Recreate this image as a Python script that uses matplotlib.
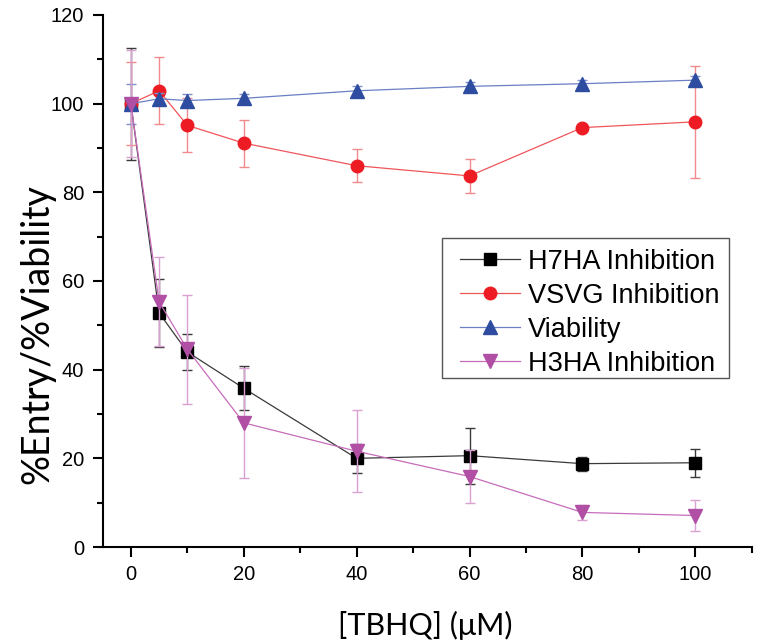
import numpy as np
import matplotlib
matplotlib.use("Agg")
import matplotlib.pyplot as plt
from matplotlib.patches import Rectangle

# TBHQ concentrations (uM)
conc = [0, 5, 10, 20, 40, 60, 80, 100]

# series values and error bars
h7ha = [100, 52.8, 44.0, 35.8, 20.0, 20.6, 18.8, 19.0]
h7ha_err = [12.6, 7.6, 4.1, 5.0, 3.2, 6.3, 1.6, 3.2]

vsvg = [100, 102.9, 95.1, 91.1, 86.0, 83.7, 94.6, 95.9]
vsvg_err = [9.3, 7.6, 6.1, 5.3, 3.7, 3.75, 0.6, 12.6]

viab = [100, 101.1, 100.7, 101.2, 102.9, 103.9, 104.5, 105.3]
viab_err = [4.5, 1.2, 1.5, 1.0, 1.0, 1.0, 0.8, 1.0]

h3ha = [100, 55.3, 44.6, 28.0, 21.6, 15.9, 7.8, 7.1]
h3ha_err = [12.0, 10.0, 12.3, 12.4, 9.3, 5.9, 1.7, 3.5]

labels = ["H7HA Inhibition", "VSVG Inhibition", "Viability", "H3HA Inhibition"]

fig = plt.figure(figsize=(7.6, 6.43), dpi=100)
ax = fig.add_axes([0.1351, 0.1493, 0.854, 0.8274])

#series: values, errors, marker, marker size, line colour, marker colour, errorbar colour
series = [
    (h7ha, h7ha_err, "s", 8, "#3a3a3a", "#000000", "#3a3a3a"),
    (vsvg, vsvg_err, "o", 9, "#f0555a", "#ed1c24", "#f08a8c"),
    (viab, viab_err, "^", 10, "#6a7fc4", "#2e4da0", "#7f8fcc"),
    (h3ha, h3ha_err, "v", 10, "#c76cbb", "#b04fa4", "#d9a0d2"),
]

handles = []
for (vals, errs, mk, ms, lc, mc, ec), lab in zip(series, labels):
    ax.errorbar(conc, vals, yerr=errs, fmt="none", ecolor=ec,
                elinewidth=1, capsize=3.3, capthick=1)
    h, = ax.plot(conc, vals, color=lc, linewidth=0.9, marker=mk,
                 markersize=ms, markerfacecolor=mc, markeredgecolor=mc,
                 label=lab)
    handles.append(h)

ax.set_xlim(-5, 110)
ax.set_ylim(0, 120)
ax.set_xticks([0, 20, 40, 60, 80, 100])
ax.set_xticks(np.arange(10, 111, 20), minor=True)
ax.set_yticks(np.arange(0, 121, 20))
ax.set_yticks(np.arange(10, 120, 20), minor=True)

for s in ["top", "right"]:
    ax.spines[s].set_visible(False)
for s in ["left", "bottom"]:
    ax.spines[s].set_linewidth(1.5)

ax.tick_params(which="major", direction="out", length=7.2, width=1.5,
               labelsize=14.5, pad=6)
ax.tick_params(which="minor", direction="out", length=4.3, width=1.5)
for t in ax.get_xticklabels() + ax.get_yticklabels():
    t.set_fontfamily("Liberation Sans")

ax.set_xlabel("[TBHQ] (\u03bcM)", fontsize=22, fontfamily="Lato")
ax.set_ylabel("%Entry/%Viability", fontsize=27, fontfamily="Lato")
ax.xaxis.set_label_coords(0.497, -0.12)
ax.yaxis.set_label_coords(-0.0735, 0.40)

#legend entries without frame, box drawn separately (wider side padding than top/bottom)
leg = ax.legend(handles=handles, loc="upper left", bbox_to_anchor=(0.5413, 0.5714),
                borderaxespad=0, frameon=False,
                prop={"family": "Liberation Sans", "size": 19.5},
                handlelength=2.2, handletextpad=0.3, labelspacing=0.29,
                borderpad=0.22)
ax.add_patch(Rectangle((0.5228, 0.3177), 0.4422, 0.2632, transform=ax.transAxes,
                       fill=False, edgecolor="#555555", linewidth=1.0))

fig.savefig("out.png", dpi=100)
